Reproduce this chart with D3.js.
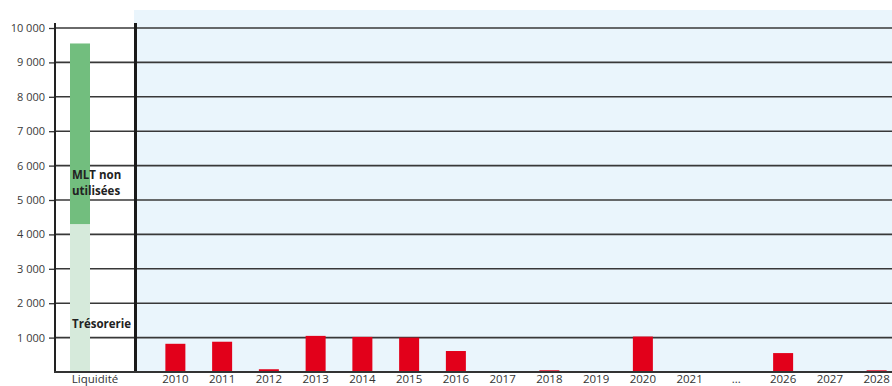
<!DOCTYPE html>
<html lang="fr">
<head>
<meta charset="utf-8">
<script src="https://cdn.jsdelivr.net/npm/d3@7"></script>
<style>
  html, body { margin: 0; padding: 0; background: #ffffff; }
  svg { display: block; font-family: "Open Sans", "DejaVu Sans", sans-serif; }
</style>
</head>
<body>
<svg id="chart" width="892" height="386"></svg>
<script>
// Liquidity available (stacked) and debt maturities by year
const liquidityLabel = "Liquidité";
const tresorerie = 4300;
const mltNonUtilisees = 5250;

const years = ["2010", "2011", "2012", "2013", "2014", "2015", "2016", "2017",
               "2018", "2019", "2020", "2021", "...", "2026", "2027", "2028"];
const maturities = [820, 880, 80, 1050, 1020, 1000, 610, 0,
                    50, 0, 1030, 0, 0, 550, 0, 50];

const yTicks = [1000, 2000, 3000, 4000, 5000, 6000, 7000, 8000, 9000, 10000];

const svg = d3.select("#chart");
const W = 892;

const y = d3.scaleLinear().domain([0, 10000]).range([372, 28]);
const xLiq = d3.scaleBand().domain([liquidityLabel]).range([55, 135]);
const xYears = d3.scaleBand().domain(years).range([152, 900]);
const barW = 20;

// light blue panel behind the maturity schedule
svg.append("rect")
  .attr("x", 134).attr("y", 10)
  .attr("width", W - 134).attr("height", y(0) - 10)
  .attr("fill", "#eaf5fc");

// horizontal gridlines
svg.append("g").selectAll("line").data(yTicks).join("line")
  .attr("x1", 55).attr("x2", W)
  .attr("y1", d => y(d)).attr("y2", d => y(d))
  .attr("stroke", "#383838").attr("stroke-width", 1.6);

// y axis
const fmt = v => d3.format(",")(v).replace(/,/g, " ");
const yAxis = d3.axisLeft(y).tickValues(yTicks).tickSize(6).tickPadding(4).tickFormat(fmt);
const gy = svg.append("g").attr("transform", "translate(55,0)").call(yAxis);
gy.select(".domain").remove();
gy.selectAll(".tick line").attr("stroke", "#333").attr("stroke-width", 1.3);
gy.selectAll(".tick text")
  .attr("fill", "#3a3a3a").style("font-size", "11px")
  .style("font-family", "'Open Sans', sans-serif");
svg.append("line")
  .attr("x1", 55).attr("x2", 55).attr("y1", 23).attr("y2", y(0) + 1)
  .attr("stroke", "#222").attr("stroke-width", 2);

// liquidity stacked bar
const liqX = xLiq(liquidityLabel) + 15;
svg.append("rect")
  .attr("x", liqX).attr("width", barW)
  .attr("y", y(tresorerie)).attr("height", y(0) - y(tresorerie))
  .attr("fill", "#d6eadb");
svg.append("rect")
  .attr("x", liqX).attr("width", barW)
  .attr("y", y(tresorerie + mltNonUtilisees))
  .attr("height", y(tresorerie) - y(tresorerie + mltNonUtilisees))
  .attr("fill", "#72be7e");

// segment labels
const segLabels = svg.append("g")
  .attr("font-weight", "bold").attr("fill", "#222").style("font-size", "11.5px");
segLabels.append("text").attr("x", liqX + 2).attr("y", 179).text("MLT non");
segLabels.append("text").attr("x", liqX + 2).attr("y", 195).text("utilisées");
segLabels.append("text").attr("x", liqX + 2).attr("y", 328).text("Trésorerie");

// maturity bars
svg.append("g").selectAll("rect").data(years.map((k, i) => ({ k, v: maturities[i] })))
  .join("rect")
  .attr("x", d => xYears(d.k) + xYears.bandwidth() / 2 - barW / 2)
  .attr("width", barW)
  .attr("y", d => y(d.v))
  .attr("height", d => y(0) - y(d.v))
  .attr("fill", "#e2001a");

// separator between liquidity and maturities
svg.append("line")
  .attr("x1", 135.5).attr("x2", 135.5).attr("y1", 23).attr("y2", y(0) + 1)
  .attr("stroke", "#1a1a1a").attr("stroke-width", 3);

// baseline
svg.append("line")
  .attr("x1", 54).attr("x2", W).attr("y1", y(0)).attr("y2", y(0))
  .attr("stroke", "#333").attr("stroke-width", 2);

// category labels
const catLabels = svg.append("g").attr("fill", "#333").style("font-size", "11.5px")
  .attr("text-anchor", "middle");
catLabels.append("text")
  .attr("x", xLiq(liquidityLabel) + xLiq.bandwidth() / 2).attr("y", 383)
  .text(liquidityLabel);
catLabels.selectAll(".yr").data(years).join("text")
  .attr("class", "yr")
  .attr("x", d => xYears(d) + xYears.bandwidth() / 2)
  .attr("y", 383)
  .text(d => d);
</script>
</body>
</html>
